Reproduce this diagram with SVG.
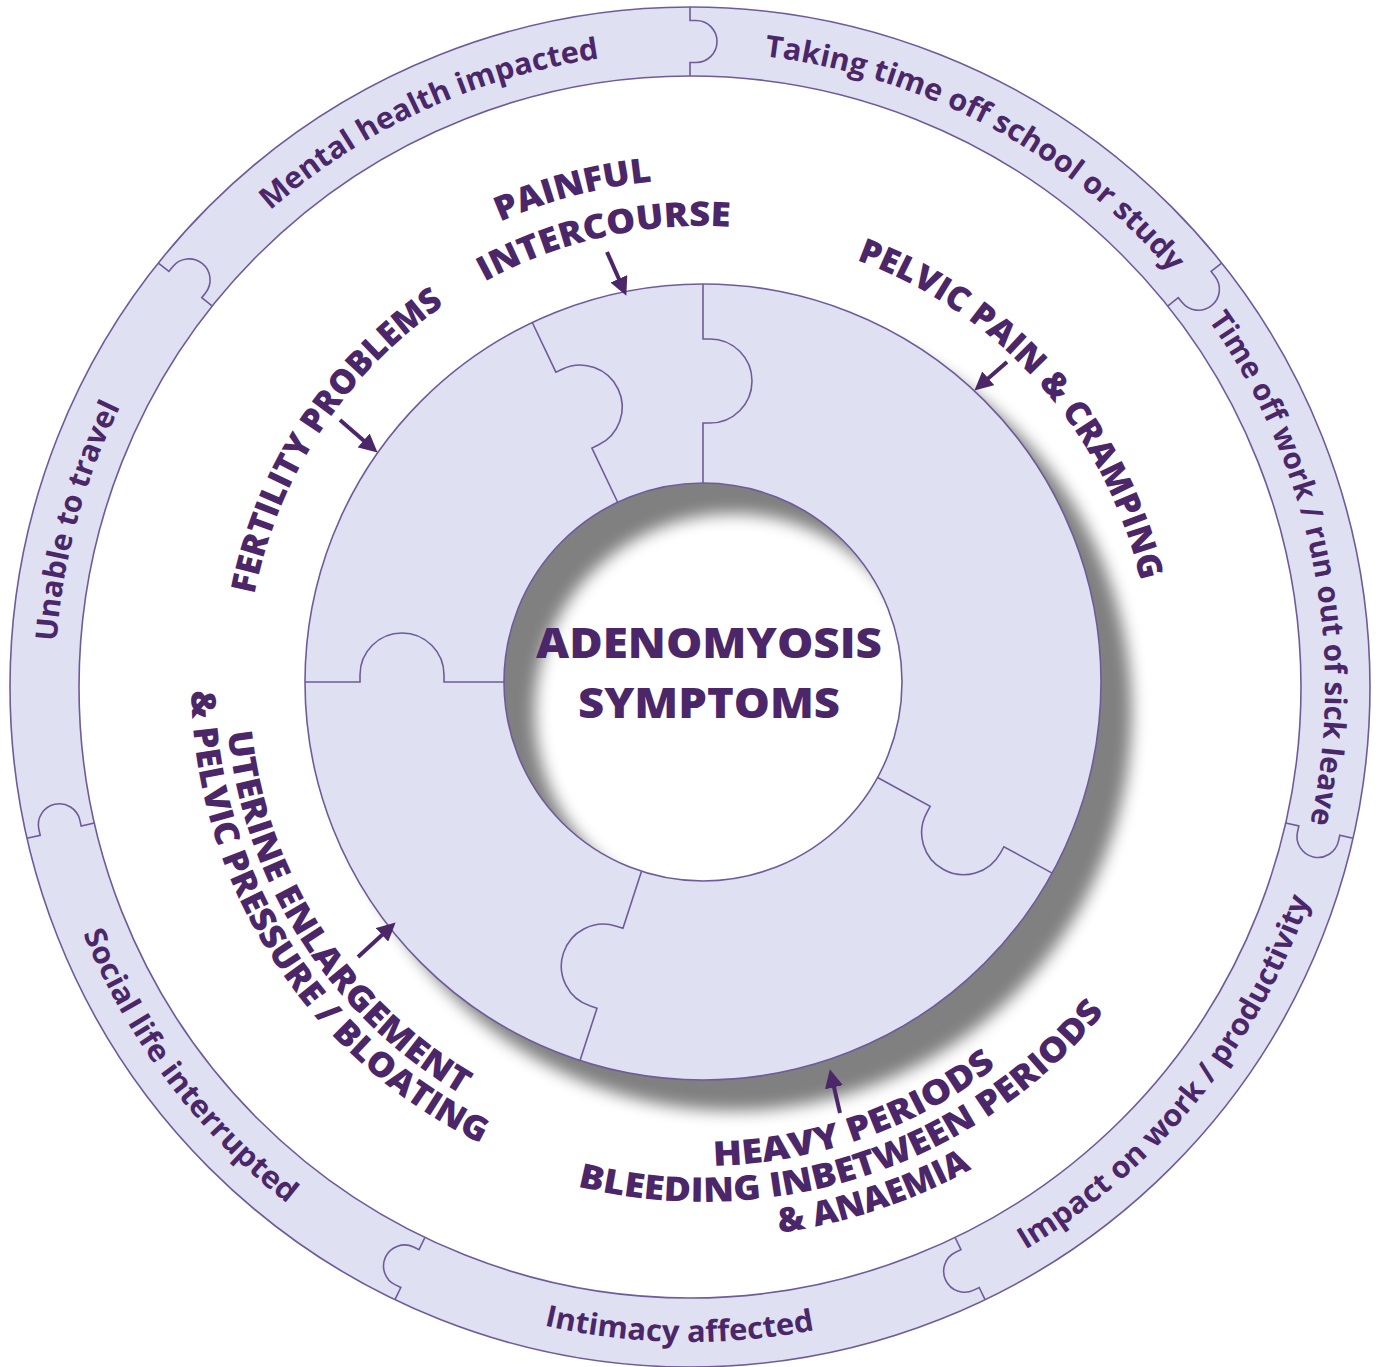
<svg xmlns="http://www.w3.org/2000/svg" xmlns:xlink="http://www.w3.org/1999/xlink" width="1381" height="1367" viewBox="0 0 1381 1367">
<style>
.ring{fill:#dfe0f2;stroke:#6f5b9a;stroke-width:1.6;fill-rule:evenodd}
.seam{fill:none;stroke:#6f5b9a;stroke-width:1.6}
.lbl{font-family:"Open Sans","DejaVu Sans",sans-serif;font-weight:700;fill:#4b2769}
.in{font-size:34px;font-weight:800}
.out{font-size:30px}
.ctr{font-size:42px;font-weight:800}
.arr{stroke:#4b2769;stroke-width:4;fill:none;marker-end:url(#ah)}
</style>
<defs>
<filter id="ds" x="-20%" y="-20%" width="140%" height="140%" color-interpolation-filters="sRGB">
<feGaussianBlur in="SourceAlpha" stdDeviation="8" result="b"/>
<feOffset in="b" dx="30" dy="30" result="o"/>
<feFlood flood-color="#808080"/>
<feComposite in2="o" operator="in" result="s"/>
<feMerge><feMergeNode in="s"/><feMergeNode in="SourceGraphic"/></feMerge>
</filter>
<marker id="ah" viewBox="0 0 10 10" refX="7" refY="5" markerWidth="4.6" markerHeight="4.6" orient="auto"><path d="M0,0 L10,5 L0,10 z" fill="#4b2769"/></marker>
<path id="oseam" d="M690,7 L690,20.5 L696,20.5 A21,21 0 0 1 696,62.5 L690,62.5 L690,76"/>
<path id="dseam" d="M703,284 L703,339 L710,339 A42,42 0 0 1 710,423 L703,423 L703,483"/>
<path id="ocw" d="M55,687 A635,635 0 0 1 1325,687"/>
<path id="occw" d="M35,687 A655,655 0 0 0 1345,687"/>
<path id="cw503" d="M200,682 A503,503 0 0 1 1206,682"/>
<path id="cw456" d="M247,682 A456,456 0 0 1 1159,682"/>
<path id="cw449" d="M254,682 A449,449 0 0 1 1152,682"/>
<path id="cw457" d="M246,682 A457,457 0 0 1 1160,682"/>
<path id="ccw478" d="M225,682 A478,478 0 0 0 1181,682"/>
<path id="ccw512" d="M191,682 A512,512 0 0 0 1215,682"/>
<path id="ccw484" d="M219,682 A484,484 0 0 0 1187,682"/>
<path id="ccw520" d="M183,682 A520,520 0 0 0 1223,682"/>
<path id="ccw556" d="M147,682 A556,556 0 0 0 1259,682"/>
</defs>
<rect width="1381" height="1367" fill="#ffffff"/>

<g id="outer-ring">
<path class="ring" d="M10,687 A680,680 0 1 0 1370,687 A680,680 0 1 0 10,687 Z M79,687 A611,611 0 1 0 1301,687 A611,611 0 1 0 79,687 Z"/>
<use href="#oseam" class="seam"/>
<use href="#oseam" class="seam" transform="rotate(51.4286 690 687)"/>
<use href="#oseam" class="seam" transform="rotate(102.8571 690 687)"/>
<use href="#oseam" class="seam" transform="rotate(154.2857 690 687)"/>
<use href="#oseam" class="seam" transform="rotate(205.7143 690 687)"/>
<use href="#oseam" class="seam" transform="rotate(257.1429 690 687)"/>
<use href="#oseam" class="seam" transform="rotate(308.5714 690 687)"/>
</g>

<g id="outer-mental"><text class="lbl out" transform="rotate(-24.8 690 687)"><textPath href="#ocw" startOffset="50%" text-anchor="middle" textLength="368" lengthAdjust="spacingAndGlyphs">Mental health impacted</textPath></text></g>
<g id="outer-school"><text class="lbl out" transform="rotate(28 690 687)"><textPath href="#ocw" startOffset="50%" text-anchor="middle" textLength="472" lengthAdjust="spacingAndGlyphs">Taking time off school or study</textPath></text></g>
<g id="outer-work"><text class="lbl out" transform="rotate(78.55 690 687)"><textPath href="#ocw" startOffset="50%" text-anchor="middle" textLength="529" lengthAdjust="spacingAndGlyphs">Time off work / run out of sick leave</textPath></text></g>
<g id="outer-impact"><text class="lbl out" transform="rotate(-50.95 690 687)"><textPath href="#occw" startOffset="50%" text-anchor="middle" textLength="461" lengthAdjust="spacingAndGlyphs">Impact on work / productivity</textPath></text></g>
<g id="outer-intimacy"><text class="lbl out" transform="rotate(0.95 690 687)"><textPath href="#occw" startOffset="50%" text-anchor="middle" textLength="273" lengthAdjust="spacingAndGlyphs">Intimacy affected</textPath></text></g>
<g id="outer-social"><text class="lbl out" transform="rotate(52.9 690 687)"><textPath href="#occw" startOffset="50%" text-anchor="middle" textLength="343" lengthAdjust="spacingAndGlyphs">Social life interrupted</textPath></text></g>
<g id="outer-travel"><text class="lbl out" transform="rotate(-74.85 690 687)"><textPath href="#ocw" startOffset="50%" text-anchor="middle" textLength="245" lengthAdjust="spacingAndGlyphs">Unable to travel</textPath></text></g>

<g id="puzzle" filter="url(#ds)">
<path class="ring" d="M305,682 A398,398 0 1 0 1101,682 A398,398 0 1 0 305,682 Z M504,682 A199,199 0 1 0 902,682 A199,199 0 1 0 504,682 Z"/>
</g>
<g id="puzzle-seams">
<use href="#dseam" class="seam" transform="rotate(-25.4 703 682)"/>
<use href="#dseam" class="seam"/>
<use href="#dseam" class="seam" transform="rotate(118.7 703 682)"/>
<use href="#dseam" class="seam" transform="rotate(198 703 682)"/>
<use href="#dseam" class="seam" transform="rotate(270 703 682)"/>
</g>

<g id="center">
<text class="lbl ctr" x="709" y="658" text-anchor="middle" textLength="346" lengthAdjust="spacingAndGlyphs">ADENOMYOSIS</text>
<text class="lbl ctr" x="709" y="718" text-anchor="middle" textLength="262" lengthAdjust="spacingAndGlyphs">SYMPTOMS</text>
</g>

<g id="label-intercourse">
<text class="lbl in" transform="rotate(-14.8 703 682)"><textPath href="#cw503" startOffset="50%" text-anchor="middle" textLength="158" lengthAdjust="spacingAndGlyphs">PAINFUL</textPath></text>
<text class="lbl in" transform="rotate(-12.6 703 682)"><textPath href="#cw456" startOffset="50%" text-anchor="middle" textLength="255" lengthAdjust="spacingAndGlyphs">INTERCOURSE</textPath></text>
</g>
<g id="label-pelvic"><text class="lbl in" transform="rotate(48.5 703 682)"><textPath href="#cw449" startOffset="50%" text-anchor="middle" textLength="447" lengthAdjust="spacingAndGlyphs">PELVIC PAIN &amp; CRAMPING</textPath></text></g>
<g id="label-fertility"><text class="lbl in" transform="rotate(-56.7 703 682)"><textPath href="#cw457" startOffset="50%" text-anchor="middle" textLength="355" lengthAdjust="spacingAndGlyphs">FERTILITY PROBLEMS</textPath></text></g>
<g id="label-uterine">
<text class="lbl in" transform="rotate(57.15 703 682)"><textPath href="#ccw478" startOffset="50%" text-anchor="middle" textLength="448" lengthAdjust="spacingAndGlyphs">UTERINE ENLARGEMENT</textPath></text>
<text class="lbl in" transform="rotate(57.35 703 682)"><textPath href="#ccw512" startOffset="50%" text-anchor="middle" textLength="566" lengthAdjust="spacingAndGlyphs">&amp; PELVIC PRESSURE / BLOATING</textPath></text>
</g>
<g id="label-heavy">
<text class="lbl in" transform="rotate(-19.3 703 682)"><textPath href="#ccw484" startOffset="50%" text-anchor="middle" textLength="305" lengthAdjust="spacingAndGlyphs">HEAVY PERIODS</textPath></text>
<text class="lbl in" transform="rotate(-18.3 703 682)"><textPath href="#ccw520" startOffset="50%" text-anchor="middle" textLength="586" lengthAdjust="spacingAndGlyphs">BLEEDING INBETWEEN PERIODS</textPath></text>
<text class="lbl in" transform="rotate(-18.4 703 682)"><textPath href="#ccw556" startOffset="50%" text-anchor="middle" textLength="204" lengthAdjust="spacingAndGlyphs">&amp; ANAEMIA</textPath></text>
</g>

<g id="connectors">
<line class="arr" x1="607" y1="252" x2="624.1" y2="290.6"/>
<line class="arr" x1="1007" y1="362" x2="978.6" y2="386.8"/>
<line class="arr" x1="340" y1="420" x2="373.4" y2="448.9"/>
<line class="arr" x1="358" y1="957" x2="391.5" y2="926.2"/>
<line class="arr" x1="840" y1="1113" x2="831.1" y2="1074.7"/>
</g>
</svg>
